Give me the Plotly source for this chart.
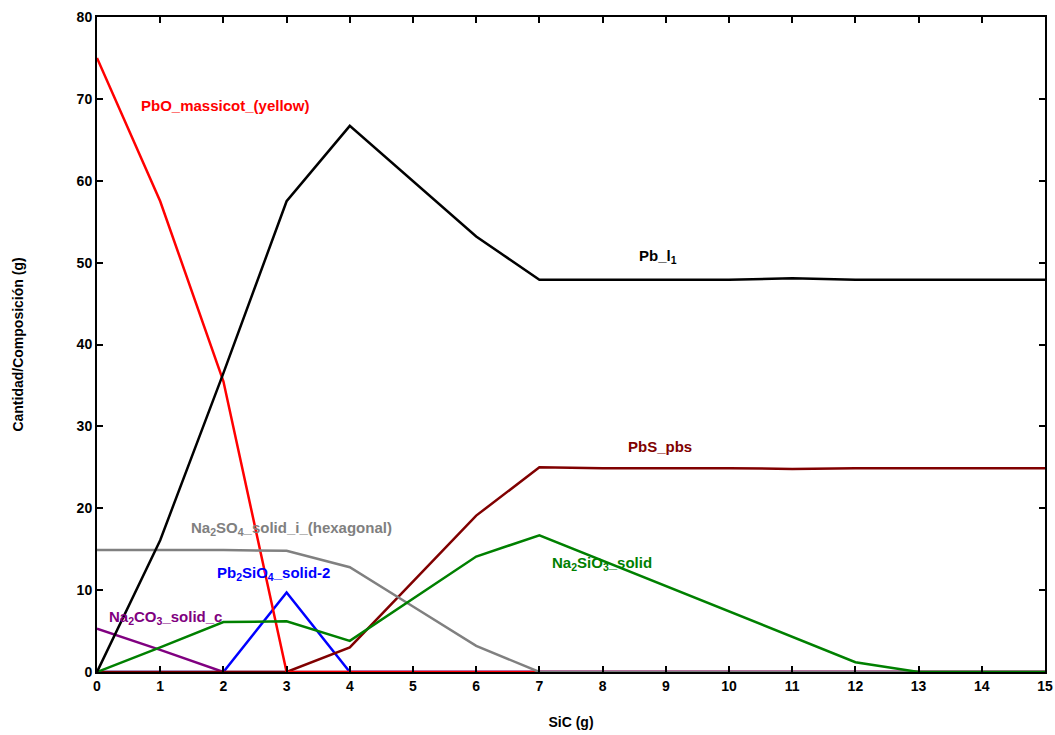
import plotly.graph_objects as go

sic = list(range(0, 16))

pb_l1 = [0, 16.1, 36.5, 57.5, 66.7, 60.0, 53.2, 47.9, 47.9, 47.9, 47.9, 48.1, 47.9, 47.9, 47.9, 47.9]
pbo_massicot = [75.0, 57.5, 35.5, 0, 0, 0, 0, 0, 0, 0, 0, 0, 0, 0, 0, 0]
pbs_pbs = [0, 0, 0, 0, 3.0, 11.0, 19.1, 25.0, 24.9, 24.9, 24.9, 24.8, 24.9, 24.9, 24.9, 24.9]
na2so4 = [14.9, 14.9, 14.9, 14.8, 12.8, 8.0, 3.2, 0, 0, 0, 0, 0, 0, 0, 0, 0]
na2sio3 = [0, 3.0, 6.1, 6.2, 3.8, 9.0, 14.1, 16.7, 13.6, 10.5, 7.4, 4.3, 1.2, 0, 0, 0]
pb2sio4 = [0, 0, 0, 9.7, 0, 0, 0, 0, 0, 0, 0, 0, 0, 0, 0, 0]
na2co3 = [5.3, 2.7, 0, 0, 0, 0, 0, 0, 0, 0, 0, 0, 0, 0, 0, 0]

series = [
    ("Pb2SiO4_solid-2", pb2sio4, "#0000ff"),
    ("Na2CO3_solid_c", na2co3, "#800080"),
    ("PbS_pbs", pbs_pbs, "#800000"),
    ("PbO_massicot_(yellow)", pbo_massicot, "#ff0000"),
    ("Na2SO4_solid_i_(hexagonal)", na2so4, "#808080"),
    ("Na2SiO3_solid", na2sio3, "#008000"),
    ("Pb_l1", pb_l1, "#000000"),
]

labels = [
    ("PbO_massicot_(yellow)", 2.03, 69.2, "#ff0000"),
    ("Pb_l<sub>1</sub>", 8.88, 50.7, "#000000"),
    ("PbS_pbs", 8.91, 27.6, "#800000"),
    ("Na<sub>2</sub>SO<sub>4</sub>_solid_i_(hexagonal)", 3.07, 17.5, "#808080"),
    ("Na<sub>2</sub>SiO<sub>3</sub>_solid", 7.99, 13.3, "#008000"),
    ("Pb<sub>2</sub>SiO<sub>4</sub>_solid-2", 2.79, 12.0, "#0000ff"),
    ("Na<sub>2</sub>CO<sub>3</sub>_solid_c", 1.09, 6.7, "#800080"),
]

fig = go.Figure()
for name, vals, color in series:
    fig.add_trace(go.Scatter(x=sic, y=vals, mode="lines", name=name,
                             line=dict(color=color, width=2.5), showlegend=False))

for text, x, y, color in labels:
    fig.add_annotation(x=x, y=y, text=text, showarrow=False,
                       font=dict(family="Liberation Sans", size=15, color=color, weight="bold"))

fig.update_layout(
    width=1055, height=735,
    margin=dict(l=97, r=10, t=17, b=63, autoexpand=False),
    paper_bgcolor="white", plot_bgcolor="white",
    font=dict(family="Liberation Sans", color="black"),
)
fig.update_xaxes(
    range=[0, 15], tickmode="linear", tick0=0, dtick=1, automargin=False,
    showline=True, linecolor="black", linewidth=2, mirror="ticks",
    ticks="inside", ticklen=6, tickwidth=2, tickcolor="black",
    showgrid=False, zeroline=False,
    tickfont=dict(size=14, weight="bold"),
    title=dict(text="SiC (g)", font=dict(size=14, weight="bold"), standoff=24),
)
fig.update_yaxes(
    range=[0, 80], tickmode="linear", tick0=0, dtick=10, automargin=False,
    showline=True, linecolor="black", linewidth=2, mirror="ticks",
    ticks="inside", ticklen=6, tickwidth=2, tickcolor="black",
    showgrid=False, zeroline=False,
    tickfont=dict(size=14, weight="bold"),
    title=dict(text="Cantidad/Composición (g)", font=dict(size=14, weight="bold"), standoff=50),
)

fig.write_html("out.html",
               config={"displayModeBar": False},
               post_script="document.body.style.margin='0';document.body.style.overflow='hidden';")
